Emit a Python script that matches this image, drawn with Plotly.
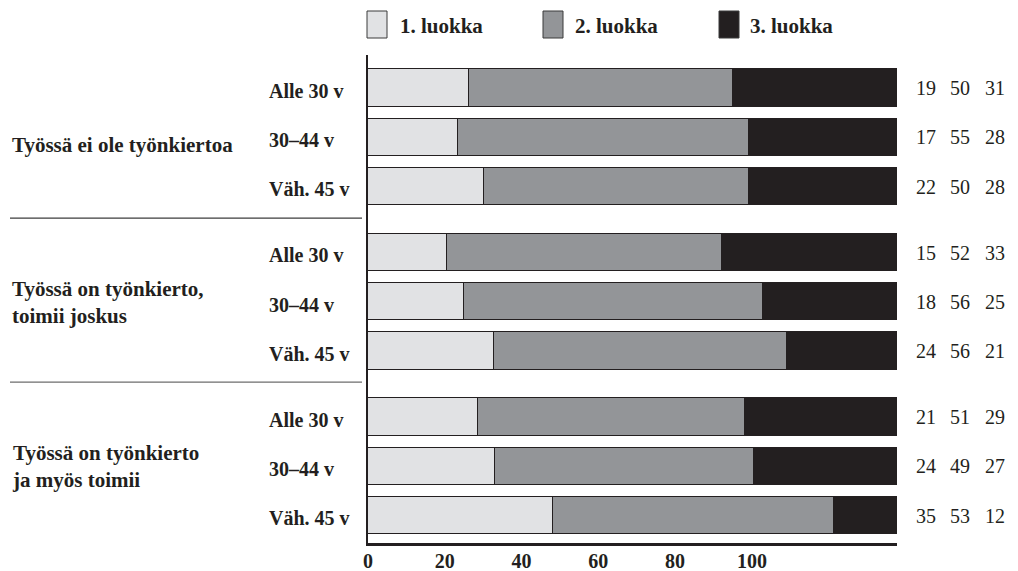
import plotly.graph_objects as go

# ---------------- data ----------------
group_labels = ["Työssä ei ole työnkiertoa",
                "Työssä on työnkierto,<br>toimii joskus",
                "Työssä on työnkierto<br>ja myös toimii"]
age_labels = ["Alle 30 v", "30–44 v", "Väh. 45 v"]
series_names = ["1. luokka", "2. luokka", "3. luokka"]
luokka1 = [19, 17, 22, 15, 18, 24, 21, 24, 35]
luokka2 = [50, 55, 50, 52, 56, 56, 51, 49, 53]
luokka3 = [31, 28, 28, 33, 25, 21, 29, 27, 12]
tick_labels = [0, 20, 40, 60, 80, 100]

# ---------------- style ----------------
FONT = "Liberation Serif, Times New Roman, serif"
INK = "#231f20"
colors = ["#e1e2e4", "#939598", "#231f20"]

# page offset (browser body margin)
OFF = 8
W, H = 1018 - OFF, 571 - OFF
# plot area in screen pixels
PL, PR, PT, PB = 368, 897, 55, 543
L, R, T, B = PL - OFF, W - (PR - OFF), PT - OFF, H - (PB - OFF)
PW, PH = PR - PL, PB - PT

def px_x(p):
    return (p - PL) / PW

def px_y(p):
    return (PB - p) / PH

# row positions (three groups of three rows, with a gap between groups)
GROUP_STEP = 3.34
positions = [g * GROUP_STEP + i for g in range(3) for i in range(3)]
rows_age = [age_labels[i] for g in range(3) for i in range(3)]

series = [luokka1, luokka2, luokka3]
totals = [a + b + c for a, b, c in zip(luokka1, luokka2, luokka3)]

fig = go.Figure()
for name, vals, col in zip(series_names, series, colors):
    share = [v / t * 100 for v, t in zip(vals, totals)]
    fig.add_trace(go.Bar(
        x=share, y=positions, orientation="h", name=name, width=0.76,
        marker=dict(color=col, line=dict(color=INK, width=1)),
        customdata=vals, hovertemplate="%{customdata}<extra>" + name + "</extra>",
        showlegend=False,
    ))

# dummy trace so the scale axis (tick labels) is drawn
fig.add_trace(go.Scatter(x=[None], y=[None], xaxis="x2", yaxis="y",
                         mode="markers", showlegend=False, hoverinfo="skip"))

annotations = []
shapes = []

# age labels
for p, lab in zip(positions, rows_age):
    annotations.append(dict(x=px_x(267), xref="paper", y=p + 0.06, yref="y",
                            text="<b>" + lab + "</b>", showarrow=False,
                            xanchor="left", yanchor="middle",
                            font=dict(family=FONT, size=20, color=INK)))

# group labels
group_offsets = [0.16, 0.02, 0.0]
for g, lab in enumerate(group_labels):
    yc = positions[g * 3 + 1] + group_offsets[g]
    annotations.append(dict(x=px_x(10), xref="paper", y=yc, yref="y",
                            text="<b>" + lab + "</b>", showarrow=False,
                            xanchor="left", yanchor="middle", align="left",
                            font=dict(family=FONT, size=21, color=INK)))

# numbers on the right
col_x = [926, 960, 995]
for k, vals in enumerate(series):
    for p, v in zip(positions, vals):
        annotations.append(dict(x=px_x(col_x[k]), xref="paper", y=p, yref="y",
                                text=str(v), showarrow=False, xanchor="center",
                                yanchor="middle",
                                font=dict(family=FONT, size=20, color=INK)))

# custom legend
sw_x = [367, 543, 719]
txt_x = [398, 573, 748]
for k, name in enumerate(series_names):
    shapes.append(dict(type="rect", xref="paper", yref="paper",
                       x0=px_x(sw_x[k]), x1=px_x(sw_x[k] + 20),
                       y0=px_y(38), y1=px_y(11),
                       fillcolor=colors[k], line=dict(color="#3a3a3a", width=1)))
    annotations.append(dict(x=px_x(txt_x[k]), xref="paper", y=px_y(26), yref="paper",
                            text="<b>" + name + "</b>", showarrow=False,
                            xanchor="left", yanchor="middle",
                            font=dict(family=FONT, size=21, color=INK)))

# group separator lines on the left
sep_y = [2.64, 5.97, 9.28]
for k, yv in enumerate(sep_y):
    shapes.append(dict(type="line", xref="paper", yref="y",
                       x0=px_x(10), x1=px_x(362), y0=yv, y1=yv,
                       line=dict(color="#3c3c3c" if k == 0 else "#6d6d6d", width=1.2)))

fig.update_layout(
    width=W, height=H,
    margin=dict(l=L, r=R, t=T, b=B, pad=0, autoexpand=False),
    paper_bgcolor="white", plot_bgcolor="white",
    barmode="stack", bargap=0,
    showlegend=False,
    font=dict(family=FONT, color=INK),
    xaxis=dict(range=[0, 100], showgrid=False, zeroline=False, automargin=False,
               showline=True, linecolor=INK, linewidth=2.5,
               showticklabels=False, ticks="", fixedrange=True),
    xaxis2=dict(overlaying="x", side="bottom", range=[0, 137.8], automargin=False,
                tickvals=tick_labels, ticktext=["<b>%d</b>" % t for t in tick_labels],
                showgrid=False, zeroline=False, showline=False, ticks="",
                tickfont=dict(family=FONT, size=20, color=INK),
                ticklabelstandoff=4, fixedrange=True),
    yaxis=dict(range=[8.68 + 0.558, -0.67], showgrid=False, zeroline=False,
               automargin=False,
               showline=True, linecolor=INK, linewidth=2,
               showticklabels=False, ticks="", fixedrange=True),
    annotations=annotations,
    shapes=shapes,
)

fig.write_html("out.html")
